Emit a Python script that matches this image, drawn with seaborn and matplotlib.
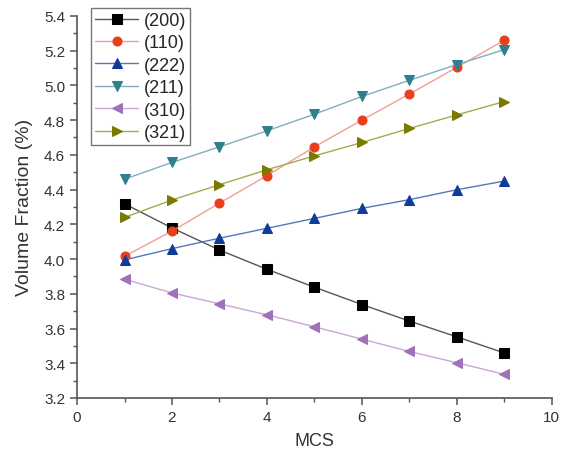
import matplotlib
matplotlib.use("Agg")
import matplotlib.pyplot as plt
import seaborn as sns
import pandas as pd
from matplotlib.ticker import MultipleLocator

mcs = [1, 2, 3, 4, 5, 6, 7, 8, 9]
labels = ["(200)", "(110)", "(222)", "(211)", "(310)", "(321)"]
v200 = [4.318, 4.179, 4.052, 3.941, 3.838, 3.738, 3.643, 3.552, 3.459]
v110 = [4.016, 4.161, 4.322, 4.48, 4.646, 4.80, 4.95, 5.104, 5.26]
v222 = [3.995, 4.06, 4.12, 4.177, 4.234, 4.292, 4.342, 4.399, 4.449]
v211 = [4.46, 4.556, 4.646, 4.738, 4.834, 4.936, 5.029, 5.12, 5.206]
v310 = [3.884, 3.805, 3.742, 3.679, 3.61, 3.539, 3.468, 3.403, 3.336]
v321 = [4.24, 4.34, 4.428, 4.514, 4.594, 4.671, 4.752, 4.83, 4.907]
series = [v200, v110, v222, v211, v310, v321]

colors = ["#000000", "#E8401C", "#0E3C9A", "#2F7F8F", "#A070B8", "#7A7A00"]
line_colors = ["#555555", "#F0A090", "#5577BB", "#7FB0BA", "#C8A8D8", "#A8A850"]
markers = ["s", "o", "^", "v", "<", ">"]

rows = []
for lab, vals in zip(labels, series):
    for x, y in zip(mcs, vals):
        rows.append({"MCS": x, "value": y, "series": lab})
df = pd.DataFrame(rows)

sns.set_style("white")
plt.rcParams["font.family"] = ["Liberation Sans", "DejaVu Sans"]
fig = plt.figure(figsize=(5.68, 4.56), dpi=100)
ax = fig.add_axes([0.1356, 0.125, 0.836, 0.838])

for lab, c, lc, m in zip(labels, colors, line_colors, markers):
    sub = df[df["series"] == lab]
    sns.lineplot(data=sub, x="MCS", y="value", ax=ax, color=lc, linewidth=1.0,
                 marker=m, markersize=6.5, markerfacecolor=c, markeredgecolor=c,
                 label=lab)

ax.set_xlim(0, 10)
ax.set_ylim(3.2, 5.4)
ax.xaxis.set_major_locator(MultipleLocator(2))
ax.xaxis.set_minor_locator(MultipleLocator(1))
ax.yaxis.set_major_locator(MultipleLocator(0.2))
ax.yaxis.set_minor_locator(MultipleLocator(0.1))
ax.yaxis.set_major_formatter(matplotlib.ticker.FormatStrFormatter("%.1f"))
for s in ["top", "right"]:
    ax.spines[s].set_visible(False)
for s in ["left", "bottom"]:
    ax.spines[s].set_color("#555555")
    ax.spines[s].set_linewidth(1.2)
ax.tick_params(which="major", direction="out", length=5, width=1.1, color="#555555",
               labelsize=11, labelcolor="#333333", left=True, bottom=True)
ax.tick_params(which="minor", direction="out", length=3, width=1.0, color="#555555",
               left=True, bottom=True)
ax.set_xlabel("MCS", fontsize=13, color="#333333", labelpad=6)
ax.set_ylabel("Volume Fraction (%)", fontsize=14, color="#333333", labelpad=8)

leg = ax.legend(loc="upper left", bbox_to_anchor=(0.03, 1.02), fontsize=13,
                frameon=True, fancybox=False, edgecolor="#555555",
                handlelength=2.4, handletextpad=0.3, borderpad=0.2,
                labelspacing=0.3, borderaxespad=0.0)
leg.get_frame().set_linewidth(1.0)

fig.savefig("out.png", dpi=100)
